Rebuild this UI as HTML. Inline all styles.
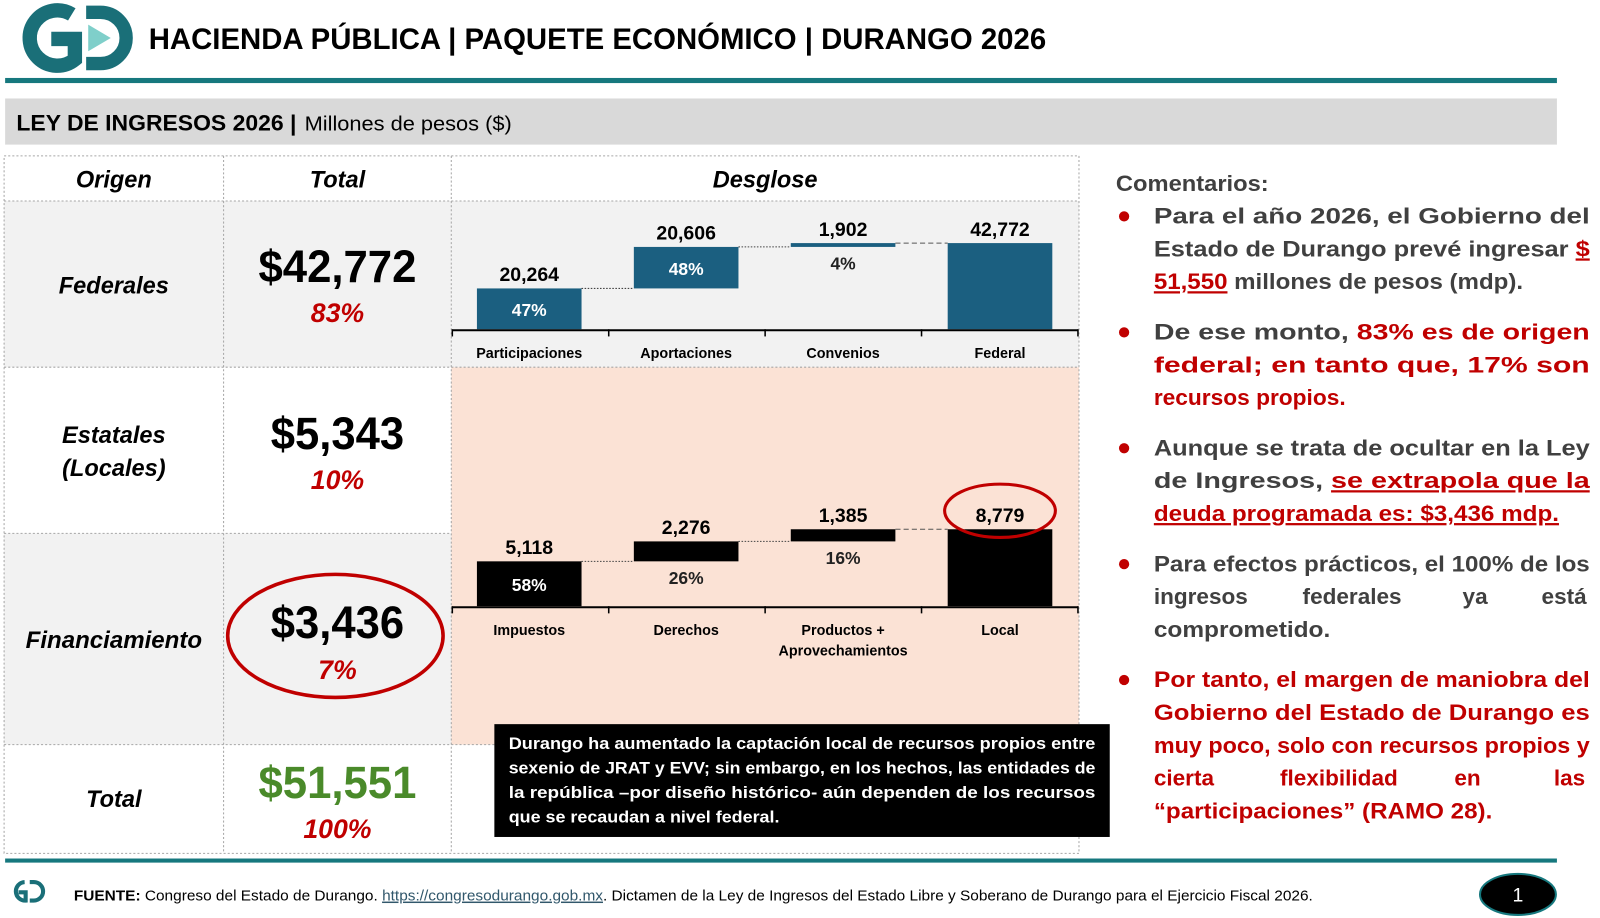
<!DOCTYPE html>
<html><head><meta charset="utf-8"><style>
html,body{margin:0;padding:0;background:#fff;width:1600px;height:918px;overflow:hidden}
svg{display:block}
text{font-family:"Liberation Sans",sans-serif}
</style></head><body>
<svg id="root" width="1600" height="918" viewBox="0 0 1560 895" preserveAspectRatio="none" xmlns="http://www.w3.org/2000/svg">
<g>
<path d="M70 14 A27 27 0 1 0 73 58 L73 38 L50 38" fill="none" stroke="#1a6f78" stroke-width="14"/>
<path d="M84 12 L98 12 A25 25 0 0 1 98 62 L84 62" fill="none" stroke="#1a6f78" stroke-width="13"/>
<polygon points="86,24 108,37 86,50" fill="#7fcfca"/>
</g>
<text x="145" y="48" font-size="29" font-weight="bold" textLength="875" lengthAdjust="spacingAndGlyphs">HACIENDA PÚBLICA | PAQUETE ECONÓMICO | DURANGO 2026</text>
<rect x="5" y="76" width="1513" height="5" fill="#16787e"/>
<rect x="5" y="96" width="1513" height="45" fill="#d9d9d9"/>
<text x="16" y="127" font-size="22" font-weight="bold" textLength="273" lengthAdjust="spacingAndGlyphs">LEY DE INGRESOS 2026 |</text>
<text x="297" y="127" font-size="20" textLength="202" lengthAdjust="spacingAndGlyphs">Millones de pesos ($)</text>

<g>
<rect x="4" y="196" width="436" height="162" fill="#f2f2f2"/>
<rect x="4" y="520" width="436" height="206" fill="#f2f2f2"/>
<rect x="440" y="196" width="612" height="162" fill="#f2f2f2"/>
<rect x="440" y="358" width="612" height="368" fill="#fbe2d5"/>
<g stroke="#a6a6a6" stroke-width="1" stroke-dasharray="2,2" fill="none">
<rect x="4" y="152" width="1048" height="680"/>
<line x1="218" y1="152" x2="218" y2="832"/>
<line x1="440" y1="152" x2="440" y2="832"/>
<line x1="4" y1="196" x2="1052" y2="196"/>
<line x1="4" y1="358" x2="1052" y2="358"/>
<line x1="4" y1="520" x2="440" y2="520"/>
<line x1="4" y1="726" x2="1052" y2="726"/>
</g>
<g font-weight="bold" font-style="italic" font-size="23" text-anchor="middle">
<text x="111" y="183">Origen</text>
<text x="329" y="183">Total</text>
<text x="746" y="183">Desglose</text>
<text x="111" y="286">Federales</text>
<text x="111" y="432">Estatales</text>
<text x="111" y="464">(Locales)</text>
<text x="111" y="632" textLength="172" lengthAdjust="spacingAndGlyphs">Financiamiento</text>
<text x="111" y="787">Total</text>
</g>
<g font-weight="bold" text-anchor="middle">
<text x="329" y="275" font-size="44" textLength="154" lengthAdjust="spacingAndGlyphs">$42,772</text>
<text x="329" y="314" font-size="26" font-style="italic" fill="#c00000">83%</text>
<text x="329" y="438" font-size="44" textLength="130" lengthAdjust="spacingAndGlyphs">$5,343</text>
<text x="329" y="477" font-size="26" font-style="italic" fill="#c00000">10%</text>
<text x="329" y="622" font-size="44" textLength="130" lengthAdjust="spacingAndGlyphs">$3,436</text>
<text x="329" y="662" font-size="26" font-style="italic" fill="#c00000">7%</text>
<text x="329" y="778" font-size="44" fill="#4a8a2a" textLength="154" lengthAdjust="spacingAndGlyphs">$51,551</text>
<text x="329" y="817" font-size="26" font-style="italic" fill="#c00000">100%</text>
</g>
<ellipse cx="327" cy="620" rx="105" ry="60" fill="none" stroke="#c00000" stroke-width="3.5"/>
</g>

<g id="charts"></g>

<g>
<rect x="482" y="706" width="600" height="110" fill="#000"/>
<g fill="#fff" font-size="16.5" font-weight="bold">
<text x="496" y="730" textLength="572" lengthAdjust="spacingAndGlyphs">Durango ha aumentado la captación local de recursos propios entre</text>
<text x="496" y="754" textLength="572" lengthAdjust="spacingAndGlyphs">sexenio de JRAT y EVV;  sin embargo, en los hechos, las entidades de</text>
<text x="496" y="778" textLength="572" lengthAdjust="spacingAndGlyphs">la república –por diseño histórico- aún dependen de los recursos</text>
<text x="496" y="802" textLength="264" lengthAdjust="spacingAndGlyphs">que se recaudan a nivel federal.</text>
</g></g>

<g font-size="22" font-weight="bold" fill="#404040">
<text x="1088" y="186" textLength="149" lengthAdjust="spacingAndGlyphs">Comentarios:</text>
<g fill="#c00000">
<circle cx="1096" cy="211" r="5"/><circle cx="1096" cy="324" r="5"/><circle cx="1096" cy="437" r="5"/><circle cx="1096" cy="550" r="5"/><circle cx="1096" cy="663" r="5"/>
</g>
<text x="1125" y="218" textLength="425" lengthAdjust="spacingAndGlyphs">Para el año 2026, el Gobierno del</text>
<text x="1125" y="250" textLength="425" lengthAdjust="spacingAndGlyphs">Estado de Durango prevé ingresar <tspan fill="#c00000" text-decoration="underline">$</tspan></text>
<text x="1125" y="282" textLength="360" lengthAdjust="spacingAndGlyphs"><tspan fill="#c00000" text-decoration="underline">51,550</tspan> millones de pesos (mdp).</text>
<text x="1125" y="331" textLength="425" lengthAdjust="spacingAndGlyphs">De ese monto, <tspan fill="#c00000">83% es de origen</tspan></text>
<text x="1125" y="363" textLength="425" lengthAdjust="spacingAndGlyphs" fill="#c00000">federal; en tanto que, 17% son</text>
<text x="1125" y="395" textLength="187" lengthAdjust="spacingAndGlyphs" fill="#c00000">recursos propios.</text>
<text x="1125" y="444" textLength="425" lengthAdjust="spacingAndGlyphs">Aunque se trata de ocultar en la Ley</text>
<text x="1125" y="476" textLength="425" lengthAdjust="spacingAndGlyphs">de Ingresos, <tspan fill="#c00000" text-decoration="underline">se extrapola que la</tspan></text>
<text x="1125" y="508" textLength="395" lengthAdjust="spacingAndGlyphs" fill="#c00000" text-decoration="underline">deuda programada es: $3,436 mdp.</text>
<text x="1125" y="557" textLength="425" lengthAdjust="spacingAndGlyphs">Para efectos prácticos, el 100% de los</text>
<text y="589"><tspan x="1125">ingresos</tspan><tspan x="1270">federales</tspan><tspan x="1426">ya</tspan><tspan x="1503">está</tspan></text>
<text x="1125" y="621" textLength="172" lengthAdjust="spacingAndGlyphs">comprometido.</text>
<g fill="#c00000">
<text x="1125" y="670" textLength="425" lengthAdjust="spacingAndGlyphs">Por tanto, el margen de maniobra del</text>
<text x="1125" y="702" textLength="425" lengthAdjust="spacingAndGlyphs">Gobierno del Estado de Durango es</text>
<text x="1125" y="734" textLength="425" lengthAdjust="spacingAndGlyphs">muy poco, solo con recursos propios y</text>
<text y="766"><tspan x="1125">cierta</tspan><tspan x="1248">flexibilidad</tspan><tspan x="1418">en</tspan><tspan x="1515">las</tspan></text>
<text x="1125" y="798" textLength="330" lengthAdjust="spacingAndGlyphs">“participaciones” (RAMO 28).</text>
</g></g>

<rect x="5" y="837" width="1513" height="4" fill="#16787e"/>
<g>
<path d="M24 860 A9 9 0 1 0 25 878 L25 870 L18 870" fill="none" stroke="#1a6f78" stroke-width="4"/>
<path d="M29 860 L33 860 A9 9 0 0 1 33 878 L29 878" fill="none" stroke="#1a6f78" stroke-width="4"/>
</g>
<text x="72" y="878" font-size="14.5" textLength="1208" lengthAdjust="spacingAndGlyphs"><tspan font-weight="bold">FUENTE:</tspan> Congreso del Estado de Durango. <tspan fill="#31576b" text-decoration="underline">https://congresodurango.gob.mx</tspan>. Dictamen de la Ley de Ingresos del Estado Libre y Soberano de Durango para el Ejercicio Fiscal 2026.</text>
<ellipse cx="1480" cy="872" rx="37" ry="20" fill="#000" stroke="#16787e" stroke-width="2"/>
<text x="1480" y="879" font-size="19" fill="#fff" text-anchor="middle">1</text>
</svg>
<script>
const fedCats = ['Participaciones','Aportaciones','Convenios','Federal'];
const fedVals = [20264, 20606, 1902, 42772];
const fedPct = ['47%','48%','4%',''];
const locCats = [['Impuestos'],['Derechos'],['Productos +','Aprovechamientos'],['Local']];
const locVals = [5118, 2276, 1385, 8779];
const locPct = ['58%','26%','16%',''];

const NS = 'http://www.w3.org/2000/svg';
const g = document.getElementById('charts');
function fmt(v){return v.toLocaleString('en-US');}
function xCenter(i){return 516 + 153*i;}

function drawChart(name, cats, vals, pcts, baseY, plotH, color){
  const total = vals[vals.length-1];
  const yScale = v => baseY - v/total*plotH;
  const bw = 102;
  const cg = document.createElementNS(NS,'g');
  
  
  g.appendChild(cg);
  let run = 0;
  const tops = [];
  for (let i=0;i<vals.length;i++){
    const last = i===vals.length-1;
    const lo = last ? 0 : run;
    const hi = last ? vals[i] : run + vals[i];
    if(!last) run = hi;
    const yTop = yScale(hi), yBot = yScale(lo);
    tops.push(yTop);
    const cx = xCenter(i);
    const r = document.createElementNS(NS,'rect');
    r.setAttribute('x', cx-bw/2); r.setAttribute('y', yTop);
    r.setAttribute('width', bw); r.setAttribute('height', Math.max(yBot-yTop,1));
    r.setAttribute('fill', color);
    
    
    cg.appendChild(r);
    const t = document.createElementNS(NS,'text');
    t.setAttribute('x', cx); t.setAttribute('y', yTop-7);
    t.setAttribute('text-anchor','middle'); t.setAttribute('font-size','19'); t.setAttribute('font-weight','bold');
    t.textContent = fmt(vals[i]);
    
    
    cg.appendChild(t);
    if (pcts[i]){
      const p = document.createElementNS(NS,'text');
      const inside = (yBot-yTop) > 28;
      p.setAttribute('x', cx); p.setAttribute('y', inside ? (yTop+yBot)/2+7 : yBot+22);
      p.setAttribute('text-anchor','middle'); p.setAttribute('font-size','17'); p.setAttribute('font-weight','bold');
      p.setAttribute('fill', inside ? '#fff' : '#222');
      p.textContent = pcts[i];
      
      
      cg.appendChild(p);
    }
    if (i>0){
      const ln = document.createElementNS(NS,'line');
      const prevTop = last ? yTop : tops[i-1];
      ln.setAttribute('x1', xCenter(i-1)+bw/2); ln.setAttribute('x2', cx-bw/2);
      ln.setAttribute('y1', prevTop); ln.setAttribute('y2', prevTop);
      ln.setAttribute('stroke', last ? '#555' : '#444');
      ln.setAttribute('stroke-dasharray', last ? '5,3' : '1.5,1.5');
      
      
      cg.appendChild(ln);
    }
    const lab = Array.isArray(cats[i]) ? cats[i] : [cats[i]];
    lab.forEach((s,k)=>{
      const c = document.createElementNS(NS,'text');
      c.setAttribute('x', cx); c.setAttribute('y', baseY+28+k*20);
      c.setAttribute('text-anchor','middle'); c.setAttribute('font-size','14'); c.setAttribute('font-weight','bold');
      c.textContent = s;
      
      
      cg.appendChild(c);
    });
  }
  const ax = document.createElementNS(NS,'line');
  ax.setAttribute('x1',441); ax.setAttribute('x2',1051); ax.setAttribute('y1',baseY+1); ax.setAttribute('y2',baseY+1);
  ax.setAttribute('stroke','#000'); ax.setAttribute('stroke-width','2');
  
  
  cg.appendChild(ax);
  for (let k=0;k<=4;k++){
    const tk = document.createElementNS(NS,'line');
    const x = 441 + 152.5*k;
    tk.setAttribute('x1',x); tk.setAttribute('x2',x); tk.setAttribute('y1',baseY); tk.setAttribute('y2',baseY+7);
    tk.setAttribute('stroke','#000'); tk.setAttribute('stroke-width','1.5');
    
    
    cg.appendChild(tk);
  }
  return yScale;
}
drawChart('federal-waterfall', fedCats, fedVals, fedPct, 321, 84, '#1b5f80');
const ys = drawChart('local-waterfall', locCats, locVals, locPct, 591, 75, '#000');
const el = document.createElementNS(NS,'ellipse');
el.setAttribute('cx', xCenter(3)); el.setAttribute('cy', ys(locVals[3])-18);
el.setAttribute('rx', 54); el.setAttribute('ry', 26);
el.setAttribute('fill','none'); el.setAttribute('stroke','#c00000'); el.setAttribute('stroke-width','3');


g.appendChild(el);
</script>
</body></html>
